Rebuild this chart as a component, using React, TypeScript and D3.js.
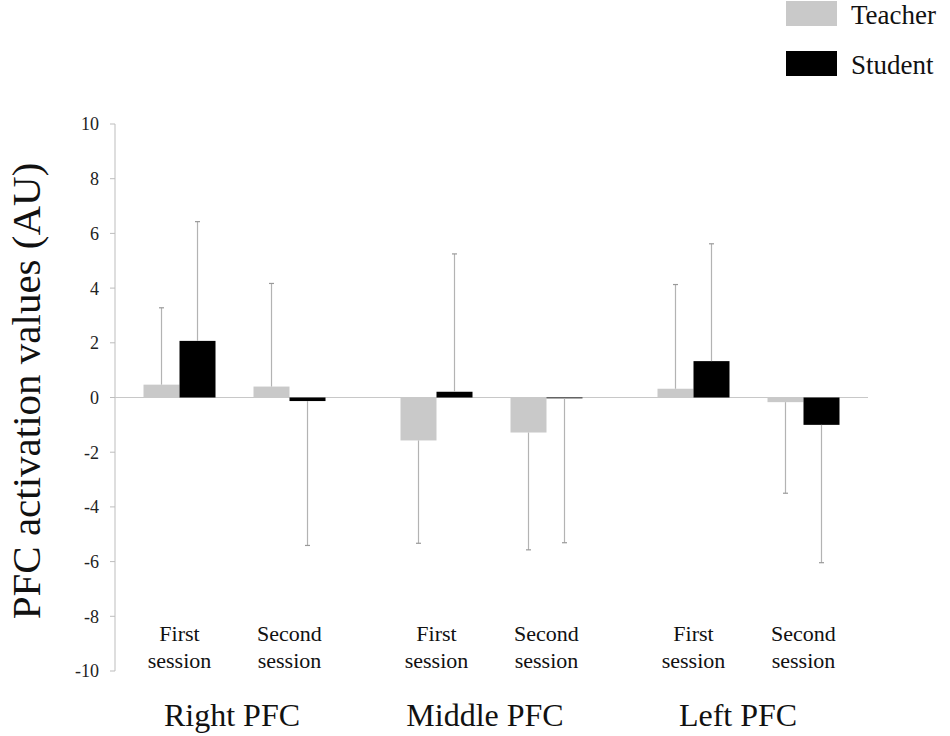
import * as d3 from "d3";
import { useEffect, useRef } from "react";

const W = 950;
const H = 736;

// categories
const regions = ["Right PFC", "Middle PFC", "Left PFC"];
const sessions = ["First session", "Second session"];
const groups = ["Teacher", "Student"];

// values, order: Right first, Right second, Middle first, Middle second, Left first, Left second
const teacher = [0.47, 0.4, -1.57, -1.28, 0.32, -0.17];
const teacherErr = [2.81, 3.77, 3.76, 4.29, 3.81, 3.33];
const student = [2.07, -0.13, 0.21, -0.03, 1.33, -1.0];
const studentErr = [4.36, 5.28, 5.04, 5.28, 4.29, 5.04];

const yTicks = [-10, -8, -6, -4, -2, 0, 2, 4, 6, 8, 10];
const colors = ["#c9c9c9", "#000000"];
const font = "'Liberation Serif', 'Times New Roman', serif";

const m = { left: 115, right: 82, top: 124, bottom: 65 };

const App = () => {
  const ref = useRef<SVGSVGElement>(null);

  useEffect(() => {
    const svg = d3.select(ref.current);
    svg.selectAll("*").remove();

    const y = d3.scaleLinear().domain([-10, 10]).range([H - m.bottom, m.top]);
    const regionX = d3
      .scalePoint<string>()
      .domain(regions)
      .range([m.left, W - m.right])
      .padding(0.465);
    const sessionX = d3.scaleBand<string>().domain(sessions).range([-110, 110]);
    const barX = d3.scaleBand<string>().domain(groups).range([-36, 36]);
    const labelX = d3.scalePoint<string>().domain(regions).range([232, 738]);

    const rows = regions.flatMap((r, i) =>
      sessions.map((s, j) => {
        const k = i * 2 + j;
        return { region: r, session: s, vals: [teacher[k], student[k]], errs: [teacherErr[k], studentErr[k]] };
      })
    );
    const sx = (r: string, s: string) => regionX(r)! + sessionX(s)! + sessionX.bandwidth() / 2;

    // y axis
    const axis = svg.append("g");
    axis
      .append("line")
      .attr("x1", m.left)
      .attr("x2", m.left)
      .attr("y1", y(10))
      .attr("y2", y(-10))
      .attr("stroke", "#bdbdbd");
    axis
      .selectAll("line.tick")
      .data(yTicks)
      .enter()
      .append("line")
      .attr("class", "tick")
      .attr("x1", m.left - 5)
      .attr("x2", m.left)
      .attr("y1", (d) => y(d))
      .attr("y2", (d) => y(d))
      .attr("stroke", "#bdbdbd");
    axis
      .selectAll("text")
      .data(yTicks)
      .enter()
      .append("text")
      .attr("x", m.left - 16)
      .attr("y", (d) => y(d))
      .attr("dy", "0.36em")
      .attr("text-anchor", "end")
      .attr("font-family", font)
      .attr("font-size", 18)
      .attr("fill", "#222")
      .text((d) => d);

    // zero line
    svg
      .append("line")
      .attr("x1", m.left)
      .attr("x2", W - m.right)
      .attr("y1", y(0))
      .attr("y2", y(0))
      .attr("stroke", "#c8c8c8")
      .attr("stroke-width", 1.2);

    // bars + error bars
    const cell = svg
      .append("g")
      .selectAll("g")
      .data(rows)
      .enter()
      .append("g")
      .attr("transform", (d) => `translate(${sx(d.region, d.session)},0)`);

    groups.forEach((g, gi) => {
      const bx = barX(g)!;
      const bw = barX.bandwidth();
      cell
        .append("rect")
        .attr("x", bx)
        .attr("width", bw)
        .attr("y", (d) => y(Math.max(0, d.vals[gi])))
        .attr("height", (d) => Math.abs(y(d.vals[gi]) - y(0)))
        .attr("fill", colors[gi]);
      const tip = (d: (typeof rows)[number]) =>
        d.vals[gi] >= 0 ? d.vals[gi] + d.errs[gi] : d.vals[gi] - d.errs[gi];
      cell
        .append("line")
        .attr("x1", bx + bw / 2)
        .attr("x2", bx + bw / 2)
        .attr("y1", (d) => y(d.vals[gi]))
        .attr("y2", (d) => y(tip(d)))
        .attr("stroke", "#b3b3b3")
        .attr("stroke-width", 1.2);
      cell
        .append("line")
        .attr("x1", bx + bw / 2 - 2.5)
        .attr("x2", bx + bw / 2 + 2.5)
        .attr("y1", (d) => y(tip(d)))
        .attr("y2", (d) => y(tip(d)))
        .attr("stroke", "#999")
        .attr("stroke-width", 1.2);
    });

    // session labels
    const lab = svg
      .append("g")
      .selectAll("text")
      .data(rows)
      .enter()
      .append("text")
      .attr("text-anchor", "middle")
      .attr("font-family", font)
      .attr("font-size", 22)
      .attr("fill", "#111");
    lab
      .append("tspan")
      .attr("x", (d) => sx(d.region, d.session))
      .attr("y", 641)
      .text((d) => d.session.split(" ")[0]);
    lab
      .append("tspan")
      .attr("x", (d) => sx(d.region, d.session))
      .attr("y", 668)
      .text((d) => d.session.split(" ")[1]);

    // region labels
    svg
      .append("g")
      .selectAll("text")
      .data(regions)
      .enter()
      .append("text")
      .attr("x", (d) => labelX(d)!)
      .attr("y", 726)
      .attr("text-anchor", "middle")
      .attr("font-family", font)
      .attr("font-size", 32)
      .attr("fill", "#111")
      .text((d) => d);

    // y title
    svg
      .append("text")
      .attr("transform", `translate(40,391) rotate(-90)`)
      .attr("text-anchor", "middle")
      .attr("font-family", font)
      .attr("font-size", 41)
      .attr("fill", "#111")
      .text("PFC activation values (AU)");

    // legend
    const leg = svg
      .append("g")
      .selectAll("g")
      .data(groups)
      .enter()
      .append("g")
      .attr("transform", (_d, i) => `translate(786,${1 + i * 50})`);
    leg
      .append("rect")
      .attr("width", 51)
      .attr("height", 25)
      .attr("fill", (_d, i) => colors[i]);
    leg
      .append("text")
      .attr("x", 65)
      .attr("y", 23)
      .attr("font-family", font)
      .attr("font-size", 27)
      .attr("fill", "#111")
      .text((d) => d);
  }, []);

  return (
    <svg
      ref={ref}
      width={W}
      height={H}
      style={{ position: "absolute", left: 0, top: 0, background: "#fff" }}
    />
  );
};

export default App;
